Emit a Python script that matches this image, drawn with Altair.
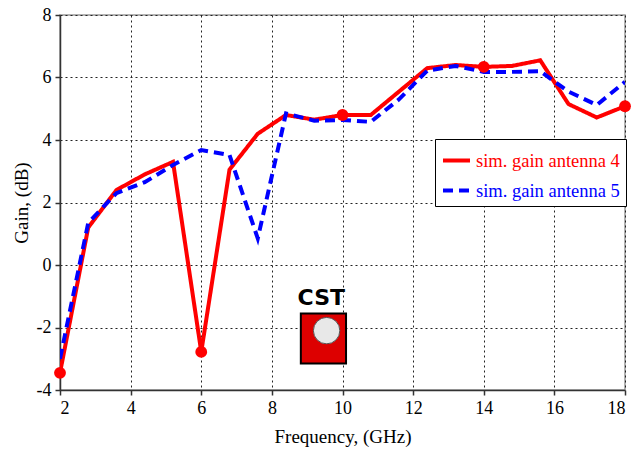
import altair as alt
import pandas as pd

freq = [2.0, 2.8, 3.6, 4.4, 5.2, 6.0, 6.8, 7.6, 8.4, 9.2, 10.0,
        10.8, 11.6, 12.4, 13.2, 14.0, 14.8, 15.6, 16.4, 17.2, 18.0]
gain4 = [-3.45, 1.2, 2.4, 2.9, 3.3, -2.78, 3.05, 4.2, 4.8, 4.65, 4.8,
         4.8, 5.55, 6.3, 6.4, 6.34, 6.37, 6.55, 5.15, 4.72, 5.08]
gain5 = [-3.0, 1.35, 2.3, 2.65, 3.2, 3.68, 3.52, 0.85, 4.85, 4.62, 4.64,
         4.58, 5.3, 6.22, 6.37, 6.18, 6.18, 6.2, 5.55, 5.12, 5.86]
names = ["sim. gain antenna 4", "sim. gain antenna 5"]
marker_freq = [2.0, 6.0, 10.0, 14.0, 18.0]
x_ticks = [2, 4, 6, 8, 10, 12, 14, 16, 18]
y_ticks = [-4, -2, 0, 2, 4, 6, 8]
logo_text = ["CST"]
logo_pos = [9.4, -1.05]
logo_box = [8.82, 10.1, -1.55, -3.15]
logo_ball = [9.55, -2.1]

rows = []
for f, a, b in zip(freq, gain4, gain5):
    rows.append({"freq": f, "gain": a, "series": names[0]})
    rows.append({"freq": f, "gain": b, "series": names[1]})
df = pd.DataFrame(rows)
mk = pd.DataFrame({"freq": marker_freq,
                   "gain": [gain4[freq.index(f)] for f in marker_freq]})

serif = "Liberation Serif"
xs = alt.Scale(domain=[2, 18], nice=False)
ys = alt.Scale(domain=[-4, 8], nice=False)

lab_expr = "replace(toString(datum.value), '\u2212', '-')"
xax = alt.Axis(values=x_ticks, title="Frequency, (GHz)", labelExpr=lab_expr,
               labelFont=serif, titleFont=serif)
yax = alt.Axis(values=y_ticks, title="Gain, (dB)", labelExpr=lab_expr,
               labelFont=serif, titleFont=serif)

lines = alt.Chart(df).mark_line(strokeWidth=4, clip=True).encode(
    x=alt.X("freq:Q", scale=xs, axis=xax),
    y=alt.Y("gain:Q", scale=ys, axis=yax),
    color=alt.Color("series:N",
                    scale=alt.Scale(domain=names, range=["#ff0000", "#0000ff"]),
                    legend=alt.Legend(
                        title=None, orient="none", legendX=375, legendY=124,
                        symbolType="stroke", symbolStrokeWidth=4, symbolSize=729,
                        labelFont=serif, labelFontSize=18.5, labelLimit=300,
                        labelOffset=4,
                        labelColor={"expr": "datum.label == 'sim. gain antenna 4' ? '#ff0000' : '#0000ff'"},
                        strokeColor="#000000", fillColor="#ffffff", padding=6,
                        rowPadding=5, cornerRadius=0)),
    strokeDash=alt.StrokeDash("series:N",
                              scale=alt.Scale(domain=names, range=[[1, 0], [10, 6]]),
                              legend=None),
    detail="series:N",
)

points = alt.Chart(mk).mark_point(filled=True, size=140, opacity=1, color="#ff0000").encode(
    x=alt.X("freq:Q", scale=xs),
    y=alt.Y("gain:Q", scale=ys),
)

logo_df = pd.DataFrame({"x": [logo_pos[0]], "y": [logo_pos[1]], "t": logo_text})
box_df = pd.DataFrame({"x": [logo_box[0]], "x2": [logo_box[1]],
                       "y": [logo_box[2]], "y2": [logo_box[3]]})
ball_df = pd.DataFrame({"x": [logo_ball[0]], "y": [logo_ball[1]]})
logo_t = alt.Chart(logo_df).mark_text(font="DejaVu Sans", fontWeight="bold",
                                      fontSize=22, color="#000000").encode(
    x=alt.X("x:Q", scale=xs), y=alt.Y("y:Q", scale=ys), text="t:N")
logo_r = alt.Chart(box_df).mark_rect(color="#dd0000", stroke="#000000",
                                     strokeWidth=2).encode(
    x=alt.X("x:Q", scale=xs), x2="x2", y=alt.Y("y:Q", scale=ys), y2="y2")
logo_b = alt.Chart(ball_df).mark_point(filled=True, size=700, color="#e8e8e8",
                                       stroke="#555555", strokeWidth=1, opacity=1).encode(
    x=alt.X("x:Q", scale=xs), y=alt.Y("y:Q", scale=ys))

chart = alt.layer(logo_r, logo_b, logo_t, lines, points).properties(
    width=565, height=375,
    autosize=alt.AutoSizeParams(type="none"),
    padding={"left": 60, "top": 15, "right": 9, "bottom": 67},
    background="#ffffff",
).configure_view(
    stroke="#999999", strokeWidth=1.5
).configure_legend(
    labelFont=serif
).configure_axis(
    labelFont=serif, labelFontSize=18, labelColor="#000000",
    titleFont=serif, titleFontSize=19, titleFontWeight="normal", titleColor="#000000",
    grid=True, gridColor="#222222", gridDash=[2, 3], gridWidth=1,
    domainColor="#333333", domainWidth=1.5,
    tickColor="#333333", tickSize=5, tickWidth=1.5,
    labelPadding=4,
).configure_axisX(
    titlePadding=10
).configure_axisY(
    titlePadding=5
)

chart.save("out.html", embed_options={"renderer": "svg", "actions": False})
